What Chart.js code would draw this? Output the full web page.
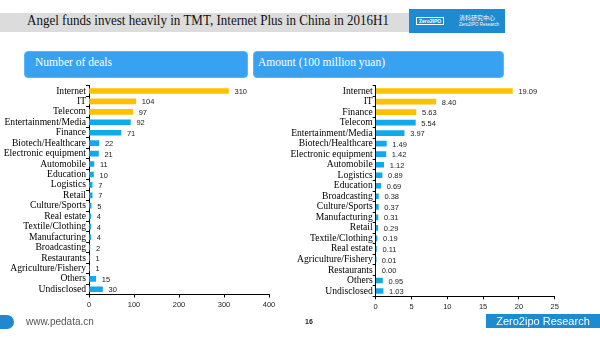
<!DOCTYPE html>
<html>
<head>
<meta charset="utf-8">
<script src="https://cdn.jsdelivr.net/npm/chart.js@4.4.0/dist/chart.umd.min.js"></script>
<style>
  html, body { margin: 0; padding: 0; background: #fff; }
  body { width: 600px; height: 338px; position: relative; overflow: hidden; }
  .band { position: absolute; left: 0; top: 13px; width: 412px; height: 19px; background: #dcdcdc; }
  .title { position: absolute; left: 27px; top: 13px; height: 19px; line-height: 19px;
           font: 14px "Liberation Serif", "Times New Roman", serif; color: #111; white-space: nowrap;
           transform-origin: left center; }
  .logo { position: absolute; left: 409px; top: 9px; width: 96px; height: 24px; background: #1e8ad0; color: #fff;
          font-family: "Liberation Sans", Arial, sans-serif; }
  .logo .mark { position: absolute; left: 7px; top: 8px; width: 26px; height: 6px; border: 1px solid #fff;
                font-size: 5px; line-height: 6px; text-align: center; font-weight: bold; }
  .logo .cn { position: absolute; left: 50px; top: 4px; font: 6px "Noto Sans CJK SC", sans-serif; }
  .logo .en { position: absolute; left: 50px; top: 13px; font-size: 4.5px; }
  .head { position: absolute; top: 51px; height: 27px; background: #38a2f2; border-radius: 4px;
          border: 1px solid #5bb4f5; box-sizing: border-box; }
  .head span { position: absolute; left: 10px; top: 2px; color: #fff; white-space: nowrap;
               font: 13px "Liberation Serif", "Times New Roman", serif; transform-origin: left center; }
  .chartbox { position: absolute; top: 80px; height: 240px; }
  .foot-tab { position: absolute; left: 0; top: 315px; width: 14px; height: 14px; background: #1f88d0;
              border-radius: 0 7px 7px 0; }
  .foot-url { position: absolute; left: 26px; top: 316px; font: 10px "Liberation Sans", Arial, sans-serif; color: #555; }
  .foot-page { position: absolute; left: 305px; top: 318px; font: bold 7px "Liberation Sans", Arial, sans-serif; color: #222; }
  .foot-brand { position: absolute; left: 486px; top: 314px; width: 114px; height: 14px; background: #1e8ad0;
                color: #fff; font: 11px "Liberation Sans", Arial, sans-serif; line-height: 14px; text-align: center; }
</style>
</head>
<body>
<div class="band"></div>
<div class="title" id="title">Angel funds invest heavily in TMT, Internet Plus in China in 2016H1</div>
<div class="logo">
  <div class="mark">Zero2IPO</div>
  <div class="cn">清科研究中心</div>
  <div class="en">Zero2IPO Research</div>
</div>

<div class="head" style="left:24px;width:224px;"><span id="head1">Number of deals</span></div>
<div class="head" style="left:253px;width:251px;"><span id="head2" style="left:4px;">Amount (100 million yuan)</span></div>

<div class="chartbox" style="left:0;width:300px;"><canvas id="dealsChart"></canvas></div>
<div class="chartbox" style="left:280px;width:320px;"><canvas id="amountChart"></canvas></div>

<div class="foot-tab"></div>
<div class="foot-url">www.pedata.cn</div>
<div class="foot-page">16</div>
<div class="foot-brand">Zero2ipo Research</div>

<script>
// Données : nombre de deals par secteur
const dealCategories = ['Internet', 'IT', 'Telecom', 'Entertainment/Media', 'Finance', 'Biotech/Healthcare',
    'Electronic equipment', 'Automobile', 'Education', 'Logistics', 'Retail', 'Culture/Sports', 'Real estate',
    'Textile/Clothing', 'Manufacturing', 'Broadcasting', 'Restaurants', 'Agriculture/Fishery', 'Others', 'Undisclosed'];
const dealValues = [310, 104, 97, 92, 71, 22, 21, 11, 10, 7, 7, 5, 4, 4, 4, 2, 1, 1, 15, 30];
const dealTicks = [0, 100, 200, 300, 400];

// Données : montants (100 millions de yuans)
const amountCategories = ['Internet', 'IT', 'Finance', 'Telecom', 'Entertainment/Media', 'Biotech/Healthcare',
    'Electronic equipment', 'Automobile', 'Logistics', 'Education', 'Broadcasting', 'Culture/Sports', 'Manufacturing',
    'Retail', 'Textile/Clothing', 'Real estate', 'Agriculture/Fishery', 'Restaurants', 'Others', 'Undisclosed'];
const amountValues = [19.09, 8.40, 5.63, 5.54, 3.97, 1.49, 1.42, 1.12, 0.89, 0.69, 0.38, 0.37, 0.31,
    0.29, 0.19, 0.11, 0.01, 0.00, 0.95, 1.03];
const amountTicks = [0, 5, 10, 15, 20, 25];

const GOLD = '#ffc000';
const BLUE = '#12a8ec';

// les 3 premiers secteurs en jaune
function barColors(n) {
    return Array.from({ length: n }, (_, i) => i < 3 ? GOLD : BLUE);
}

// Étiquettes de valeur à droite des barres
const valueLabels = {
    id: 'valueLabels',
    afterDatasetsDraw(chart, args, opts) {
        const ctx = chart.ctx;
        const meta = chart.getDatasetMeta(0);
        ctx.save();
        ctx.font = '7.5px "Liberation Sans", Arial, sans-serif';
        ctx.fillStyle = '#222';
        ctx.textBaseline = 'middle';
        meta.data.forEach((bar, i) => {
            ctx.fillText(opts.texts[i], bar.x + 6, bar.y + 1);
        });
        ctx.restore();
    }
};

function makeChart(id, labels, values, ticks, texts, yWidth, xHeight, pad) {
    const ctx = document.getElementById(id).getContext('2d');
    return new Chart(ctx, {
        type: 'bar',
        data: {
            labels: labels,
            datasets: [{
                data: values,
                backgroundColor: barColors(values.length),
                barThickness: 5
            }]
        },
        plugins: [valueLabels],
        options: {
            indexAxis: 'y',
            responsive: true,
            maintainAspectRatio: false,
            animation: false,
            layout: { padding: pad },
            plugins: {
                legend: { display: false },
                tooltip: { enabled: false },
                valueLabels: { texts: texts }
            },
            scales: {
                y: {
                    afterFit: (scale) => { scale.width = yWidth; },
                    grid: { drawOnChartArea: false, color: '#000', tickLength: 3 },
                    border: { color: '#000', width: 1 },
                    ticks: {
                        autoSkip: false,
                        padding: 0,
                        color: '#000',
                        font: { family: '"Liberation Serif", "Times New Roman", serif', size: 9.6 }
                    }
                },
                x: {
                    min: ticks[0],
                    max: ticks[ticks.length - 1],
                    afterFit: (scale) => { scale.height = xHeight; },
                    afterBuildTicks: (scale) => { scale.ticks = ticks.map(v => ({ value: v })); },
                    grid: { drawOnChartArea: false, color: '#000', tickLength: 3 },
                    border: { color: '#000', width: 1 },
                    ticks: {
                        padding: 3,
                        color: '#222',
                        maxRotation: 0,
                        font: { family: '"Liberation Sans", Arial, sans-serif', size: 7.5 }
                    }
                }
            }
        }
    });
}

makeChart('dealsChart', dealCategories, dealValues, dealTicks,
    dealValues.map(v => String(v)), 89, 25.5, { top: 4.5, right: 31, left: 0, bottom: 0 });
makeChart('amountChart', amountCategories, amountValues, amountTicks,
    amountValues.map(v => v.toFixed(2)), 95.7, 23.7, { top: 5.7, right: 45.3, left: 0, bottom: 0 });

// ajuster les textes à la largeur mesurée sur la référence
function fitWidth(id, target) {
    const el = document.getElementById(id);
    const w = el.getBoundingClientRect().width;
    el.style.transform = 'scaleX(' + (target / w) + ')';
}
fitWidth('title', 362);
fitWidth('head1', 77);
fitWidth('head2', 127);
</script>
</body>
</html>
